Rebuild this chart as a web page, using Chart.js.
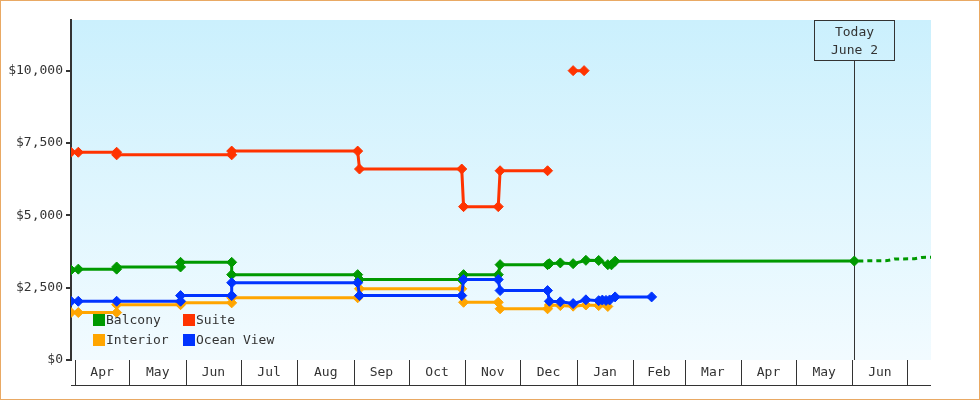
<!DOCTYPE html>
<html>
<head>
<meta charset="utf-8">
<script src="https://cdn.jsdelivr.net/npm/chart.js@4.4.0/dist/chart.umd.min.js"></script>
<style>
  html, body { margin: 0; padding: 0; background: #fff; }
  #wrap { width: 980px; height: 400px; }
</style>
</head>
<body>
<div id="wrap"><canvas id="priceChart" width="980" height="400"></canvas></div>
<script>
var monthNames = ["Jan", "Feb", "Mar", "Apr", "May", "Jun", "Jul", "Aug", "Sep", "Oct", "Nov", "Dec"];
var yTicks = [0, 2500, 5000, 7500, 10000];
var axisStart = "2022-03-30";
var axisEnd = "2023-07-14";
var todayDate = "2023-06-02";
var todayLabel = ["Today", "June 2"];

var balconyDates = ["2022-03-30", "2022-04-03", "2022-04-24", "2022-04-24", "2022-05-29", "2022-05-29", "2022-06-26", "2022-06-26",
    "2022-09-03", "2022-09-04", "2022-10-30", "2022-10-31", "2022-11-19", "2022-11-20", "2022-12-16", "2022-12-17",
    "2022-12-23", "2022-12-30", "2023-01-06", "2023-01-13", "2023-01-18", "2023-01-20", "2023-01-22", "2023-06-02"];
var balconyPrices = [3110, 3140, 3140, 3215, 3215, 3375, 3375, 2950,
    2950, 2780, 2780, 2950, 2950, 3295, 3295, 3330,
    3355, 3330, 3445, 3440, 3295, 3290, 3415, 3420];

var balconyForecastDates = ["2023-06-02", "2023-06-20", "2023-06-24", "2023-07-05", "2023-07-09", "2023-07-20"];
var balconyForecastPrices = [3420, 3435, 3490, 3500, 3545, 3555];

var suiteDates = ["2022-03-30", "2022-04-03", "2022-04-24", "2022-04-24", "2022-06-26", "2022-06-26", "2022-09-03", "2022-09-04",
    "2022-10-30", "2022-10-31", "2022-11-19", "2022-11-20", "2022-12-16", "2022-12-23", "2022-12-30", "2023-01-05"];
var suitePrices = [7180, 7180, 7180, 7090, 7090, 7220, 7220, 6600,
    6600, 5300, 5300, 6540, 6540, null, 10000, 10000];

var interiorDates = ["2022-03-30", "2022-04-03", "2022-04-24", "2022-04-24", "2022-05-29", "2022-05-29", "2022-06-26", "2022-06-26",
    "2022-09-03", "2022-09-04", "2022-10-30", "2022-10-31", "2022-11-19", "2022-11-20", "2022-12-16", "2022-12-17",
    "2022-12-23", "2022-12-30", "2023-01-06", "2023-01-13", "2023-01-18"];
var interiorPrices = [1640, 1640, 1640, 1910, 1910, 1975, 1975, 2150,
    2150, 2460, 2460, 1995, 1995, 1770, 1770, 1900,
    1880, 1860, 1900, 1880, 1850];

var oceanDates = ["2022-03-30", "2022-04-03", "2022-04-24", "2022-05-29", "2022-05-29", "2022-06-26", "2022-06-26",
    "2022-09-03", "2022-09-04", "2022-10-30", "2022-10-31", "2022-11-19", "2022-11-20", "2022-12-16", "2022-12-17",
    "2022-12-23", "2022-12-30", "2023-01-06", "2023-01-13", "2023-01-15", "2023-01-17", "2023-01-19", "2023-01-22", "2023-02-11"];
var oceanPrices = [2030, 2030, 2030, 2030, 2225, 2225, 2670,
    2670, 2225, 2225, 2780, 2780, 2400, 2400, 2030,
    2010, 1950, 2080, 2050, 2070, 2060, 2075, 2180, 2180];

var legendOrder = ["Balcony", "Suite", "Interior", "Ocean View"];
var fontFamily = "'DejaVu Sans Mono', monospace";

function dayNum(s) {
    return (Date.parse(s + "T00:00:00Z") - Date.parse(axisStart + "T00:00:00Z")) / 864e5;
}

function toPoints(dates, prices) {
    return dates.map((d, i) => ({ x: dayNum(d), y: prices[i] }));
}

function lineSet(label, dates, prices, color) {
    return {
        label: label,
        data: toPoints(dates, prices),
        borderColor: color,
        backgroundColor: color,
        borderWidth: 3,
        pointStyle: "rectRot",
        pointRadius: 5,
        pointBorderWidth: 1,
        pointBackgroundColor: color,
        pointBorderColor: color,
        spanGaps: false
    };
}

// background, month boxes, today marker, legend
var decorPlugin = {
    id: "decor",
    beforeDraw(chart) {
        var ctx = chart.ctx, a = chart.chartArea;
        ctx.save();
        var g = ctx.createLinearGradient(0, a.top, 0, a.bottom);
        g.addColorStop(0, "#cbf0fd");
        g.addColorStop(1, "#f2fbff");
        ctx.fillStyle = g;
        ctx.fillRect(a.left, a.top, a.right - a.left, a.bottom - a.top);
        ctx.restore();
    },
    beforeDatasetsDraw(chart) {
        var ctx = chart.ctx, a = chart.chartArea, x = chart.scales.x;
        var px = Math.round(x.getPixelForValue(dayNum(todayDate))) + 0.5;
        ctx.save();
        ctx.strokeStyle = "#333";
        ctx.lineWidth = 1;
        ctx.beginPath();
        ctx.moveTo(px, a.top + 40.5);
        ctx.lineTo(px, a.bottom);
        ctx.stroke();
        ctx.strokeRect(px - 40, a.top + 0.5, 80, 40);
        ctx.fillStyle = "#333";
        ctx.font = "13px " + fontFamily;
        ctx.textAlign = "center";
        ctx.textBaseline = "middle";
        ctx.fillText(todayLabel[0], px, a.top + 13);
        ctx.fillText(todayLabel[1], px, a.top + 30.5);
        ctx.restore();
    },
    afterDraw(chart) {
        var ctx = chart.ctx, a = chart.chartArea, x = chart.scales.x;
        ctx.save();
        ctx.strokeStyle = "#333";
        ctx.lineWidth = 1;
        ctx.fillStyle = "#333";
        ctx.font = "13px " + fontFamily;
        ctx.textAlign = "center";
        ctx.textBaseline = "middle";
        var boxBottom = a.bottom + 25;
        ctx.beginPath();
        ctx.moveTo(a.left, boxBottom + 0.5);
        ctx.lineTo(a.right, boxBottom + 0.5);
        var start = new Date(axisStart + "T00:00:00Z");
        var y = start.getUTCFullYear(), m = start.getUTCMonth() + 1;
        var bounds = [];
        while (true) {
            var d = new Date(Date.UTC(y, m, 1));
            var v = (d - start) / 864e5;
            if (v > x.max) break;
            bounds.push({ v: v, m: d.getUTCMonth() });
            m++;
        }
        bounds.forEach(function (b) {
            var bx = Math.round(x.getPixelForValue(b.v)) + 0.5;
            ctx.moveTo(bx, a.bottom);
            ctx.lineTo(bx, boxBottom);
        });
        ctx.stroke();
        for (var i = 0; i < bounds.length - 1; i++) {
            var cx = (x.getPixelForValue(bounds[i].v) + x.getPixelForValue(bounds[i + 1].v)) / 2;
            ctx.fillText(monthNames[bounds[i].m], cx, a.bottom + 13);
        }

        // legend, two columns inside the plot
        legendOrder.forEach(function (name, i) {
            var ds = chart.data.datasets.find(s => s.label === name);
            var lx = a.left + 22 + (i % 2) * 90;
            var ly = a.bottom - 46 + Math.floor(i / 2) * 20;
            ctx.fillStyle = ds.borderColor;
            ctx.fillRect(lx, ly, 12, 12);
            ctx.fillStyle = "#333";
            ctx.textAlign = "left";
            ctx.fillText(name, lx + 13, ly + 6.5);
        });

        ctx.strokeStyle = "#e9a964";
        ctx.strokeRect(0.5, 0.5, chart.width - 1, chart.height - 1);
        ctx.restore();
    }
};

var forecast = lineSet("Balcony forecast", balconyForecastDates, balconyForecastPrices, "#009900");
forecast.pointRadius = 0;
forecast.borderDash = [5, 4];
forecast.borderDashOffset = -4;

new Chart(document.getElementById("priceChart"), {
    type: "line",
    data: {
        datasets: [
            lineSet("Ocean View", oceanDates, oceanPrices, "#0033ff"),
            lineSet("Balcony", balconyDates, balconyPrices, "#009900"),
            forecast,
            lineSet("Interior", interiorDates, interiorPrices, "#ffa500"),
            lineSet("Suite", suiteDates, suitePrices, "#ff3300")
        ]
    },
    plugins: [decorPlugin],
    options: {
        responsive: false,
        animation: false,
        devicePixelRatio: 1,
        layout: { padding: { top: 20, right: 49, left: 0, bottom: 0 } },
        plugins: { legend: { display: false }, tooltip: { enabled: false } },
        scales: {
            x: {
                type: "linear",
                min: 0,
                max: dayNum(axisEnd),
                grid: { display: false },
                ticks: { display: false },
                border: { display: false },
                afterFit: function (s) { s.height = 40; }
            },
            y: {
                min: 0,
                max: 11750,
                afterBuildTicks: function (s) { s.ticks = yTicks.map(v => ({ value: v })); },
                afterFit: function (s) { s.width = 71; },
                border: { color: "#333", width: 2 },
                grid: { drawOnChartArea: false, color: "#333", lineWidth: 2, tickLength: 5 },
                ticks: {
                    color: "#333",
                    padding: 3,
                    font: { family: fontFamily, size: 13 },
                    callback: v => "$" + v.toLocaleString("en-US")
                }
            }
        }
    }
});
</script>
</body>
</html>
